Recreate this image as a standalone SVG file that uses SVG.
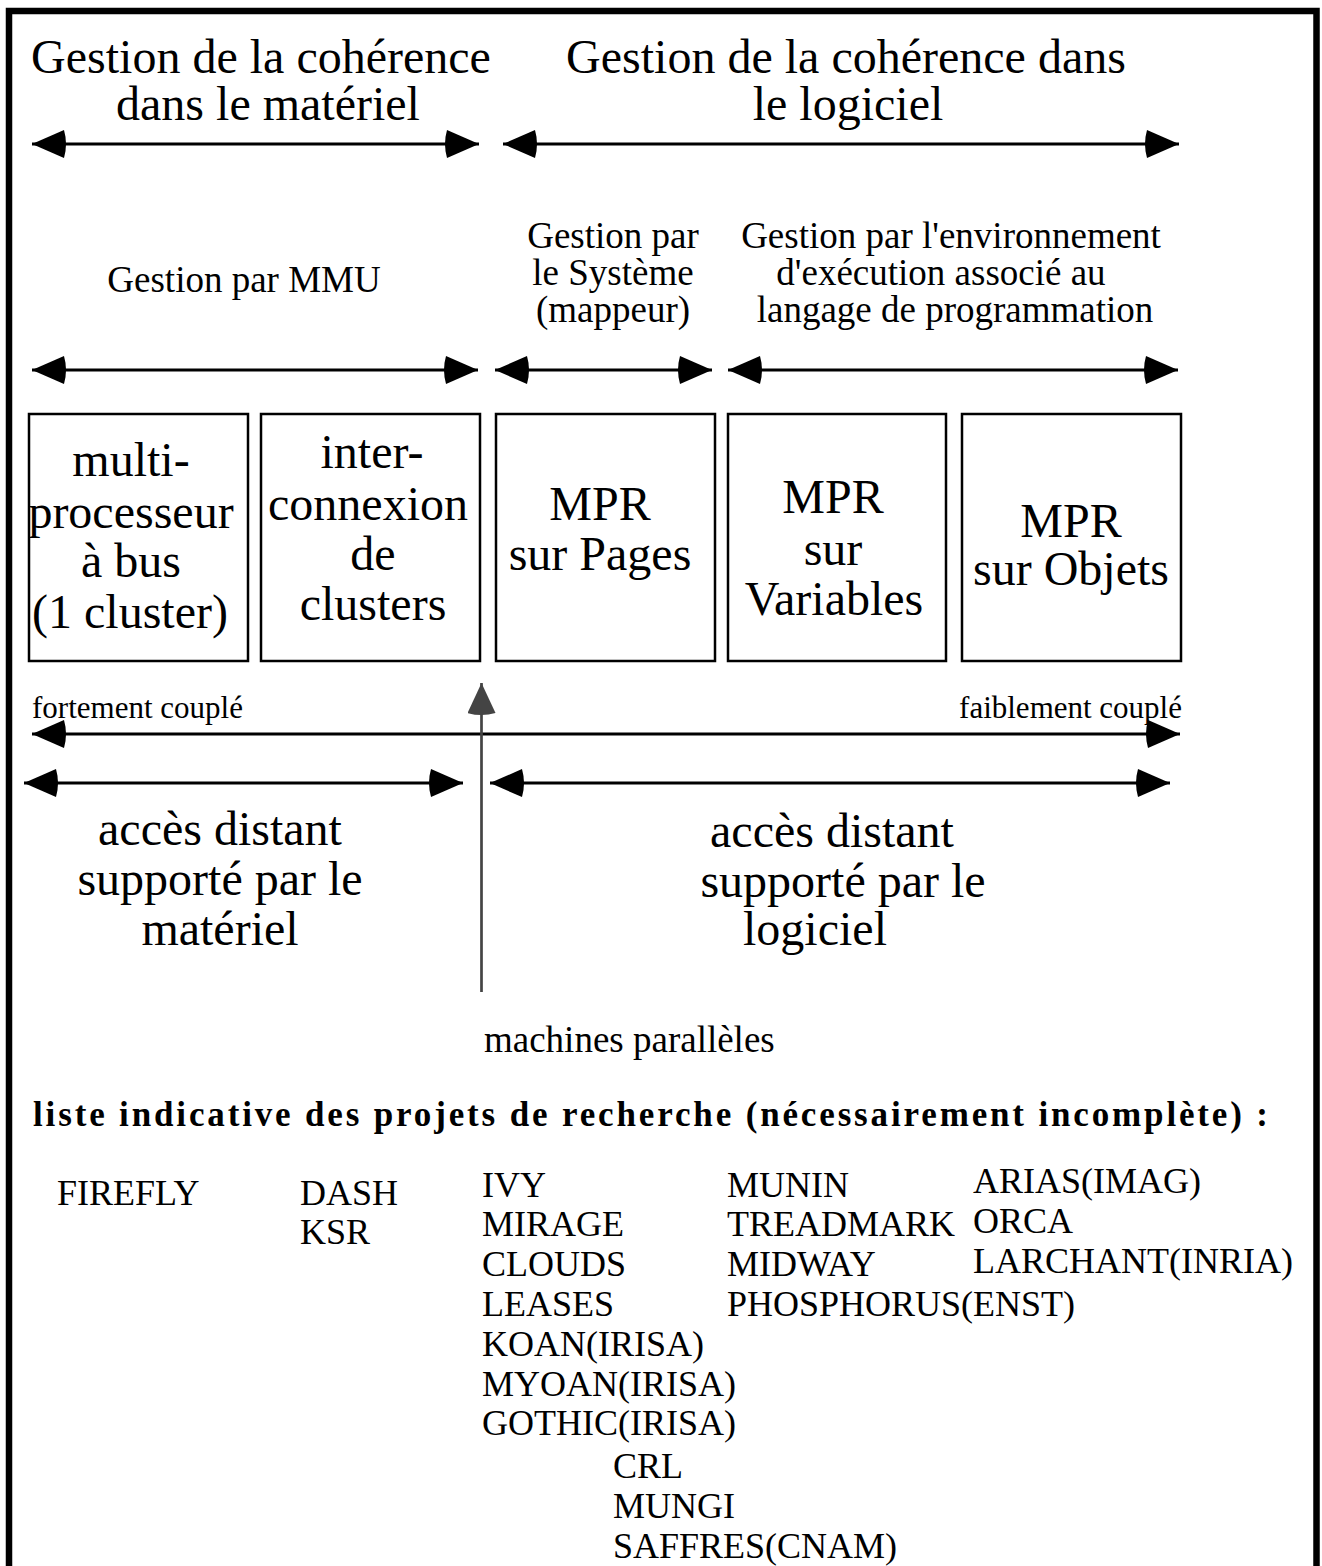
<svg xmlns="http://www.w3.org/2000/svg" width="1322" height="1566" viewBox="0 0 1322 1566">
<style>
text{font-family:"Liberation Serif","Times New Roman",serif;fill:#000}
.t48{font-size:48px}
.t37{font-size:37px}
.t36{font-size:36px}
.t31{font-size:31px}
.c{text-anchor:middle}
.box{fill:#fff;stroke:#000;stroke-width:2.5}
.arr{stroke:#000;stroke-width:3;fill:none;marker-start:url(#ah);marker-end:url(#ah)}
.bold{font-weight:bold;font-size:35px}
</style>
<defs>
<marker id="ah" markerUnits="userSpaceOnUse" markerWidth="36" markerHeight="28" viewBox="-3 0 36 28" refX="33" refY="14" orient="auto-start-reverse">
<path d="M1,0 L33,14 L1,28 Q-3,14 1,0 Z" fill="#000"/>
</marker>
<marker id="gh" markerUnits="userSpaceOnUse" markerWidth="34" markerHeight="28" viewBox="-3 0 34 28" refX="31" refY="14" orient="auto">
<path d="M1,0 L31,14 L1,28 Q-3,14 1,0 Z" fill="#444"/>
</marker>
</defs>
<rect x="0" y="0" width="1322" height="1566" fill="#fff"/>
<rect id="frame" x="9" y="11" width="1307.5" height="1600" fill="none" stroke="#000" stroke-width="6.5"/>

<g id="title-hw">
<text class="t48 c" x="261" y="73">Gestion de la cohérence</text>
<text class="t48 c" x="268" y="120">dans le matériel</text>
</g>
<g id="title-sw">
<text class="t48 c" x="846" y="73">Gestion de la cohérence dans</text>
<text class="t48 c" x="848" y="120">le logiciel</text>
</g>
<g id="label-mmu"><text class="t37 c" x="244" y="292">Gestion par MMU</text></g>
<g id="label-sys">
<text class="t37 c" x="613" y="248">Gestion par</text>
<text class="t37 c" x="613" y="285">le Système</text>
<text class="t37 c" x="613" y="322">(mappeur)</text>
</g>
<g id="label-env">
<text class="t37 c" x="951" y="248">Gestion par l'environnement</text>
<text class="t37 c" x="941" y="285">d'exécution associé au</text>
<text class="t37 c" x="955" y="322">langage de programmation</text>
</g>

<g id="box-bus">
<rect class="box" x="29" y="414" width="219" height="247"/>
<text class="t48 c" x="131" y="476">multi-</text>
<text class="t48 c" x="131" y="528">processeur</text>
<text class="t48 c" x="131" y="577">à bus</text>
<text class="t48 c" x="130" y="628">(1 cluster)</text>
</g>
<g id="box-inter">
<rect class="box" x="261" y="414" width="219" height="247"/>
<text class="t48 c" x="372" y="468">inter-</text>
<text class="t48 c" x="368" y="520">connexion</text>
<text class="t48 c" x="373" y="570">de</text>
<text class="t48 c" x="373" y="620">clusters</text>
</g>
<g id="box-pages">
<rect class="box" x="496" y="414" width="219" height="247"/>
<text class="t48 c" x="600" y="520">MPR</text>
<text class="t48 c" x="600" y="570">sur Pages</text>
</g>
<g id="box-vars">
<rect class="box" x="728" y="414" width="218" height="247"/>
<text class="t48 c" x="833" y="513">MPR</text>
<text class="t48 c" x="833" y="565">sur</text>
<text class="t48 c" x="834" y="615">Variables</text>
</g>
<g id="box-objs">
<rect class="box" x="962" y="414" width="219" height="247"/>
<text class="t48 c" x="1071" y="537">MPR</text>
<text class="t48 c" x="1071" y="585">sur Objets</text>
</g>

<g id="label-coupling">
<text class="t31" x="32" y="718">fortement couplé</text>
<text class="t31" x="1182" y="718" text-anchor="end">faiblement couplé</text>
</g>
<g id="label-access-hw">
<text class="t48 c" x="220" y="845">accès distant</text>
<text class="t48 c" x="220" y="895">supporté par le</text>
<text class="t48 c" x="220" y="945">matériel</text>
</g>
<g id="label-access-sw">
<text class="t48 c" x="832" y="847">accès distant</text>
<text class="t48 c" x="843" y="897">supporté par le</text>
<text class="t48 c" x="815" y="945">logiciel</text>
</g>
<g id="label-machines"><text class="t37" x="484" y="1052">machines parallèles</text></g>

<g id="connectors">
<line class="arr" x1="32" y1="144" x2="479" y2="144"/>
<line class="arr" x1="503" y1="144" x2="1179" y2="144"/>
<line class="arr" x1="32" y1="370" x2="478" y2="370"/>
<line class="arr" x1="495" y1="370" x2="712" y2="370"/>
<line class="arr" x1="728" y1="370" x2="1178" y2="370"/>
<line class="arr" x1="32" y1="734" x2="1180" y2="734"/>
<line class="arr" x1="24" y1="783" x2="463" y2="783"/>
<line class="arr" x1="490" y1="783" x2="1170" y2="783"/>
<line x1="481.5" y1="992" x2="481.5" y2="683" stroke="#444" stroke-width="2.7" marker-end="url(#gh)"/>
</g>

<g id="projects">
<text class="bold" x="33" y="1126" textLength="1235" lengthAdjust="spacing">liste indicative des projets de recherche (nécessairement incomplète) :</text>
<g class="t36">
<text x="57" y="1205">FIREFLY</text>
<text x="300" y="1205">DASH</text>
<text x="300" y="1244">KSR</text>
<text x="482" y="1197">IVY</text>
<text x="482" y="1236">MIRAGE</text>
<text x="482" y="1276">CLOUDS</text>
<text x="482" y="1316">LEASES</text>
<text x="482" y="1356">KOAN(IRISA)</text>
<text x="482" y="1396">MYOAN(IRISA)</text>
<text x="482" y="1435">GOTHIC(IRISA)</text>
<text x="613" y="1478">CRL</text>
<text x="613" y="1518">MUNGI</text>
<text x="613" y="1558">SAFFRES(CNAM)</text>
<text x="727" y="1197">MUNIN</text>
<text x="727" y="1236">TREADMARK</text>
<text x="727" y="1276">MIDWAY</text>
<text x="727" y="1316">PHOSPHORUS(ENST)</text>
<text x="973" y="1193">ARIAS(IMAG)</text>
<text x="973" y="1233">ORCA</text>
<text x="973" y="1273">LARCHANT(INRIA)</text>
</g>
</g>
</svg>
